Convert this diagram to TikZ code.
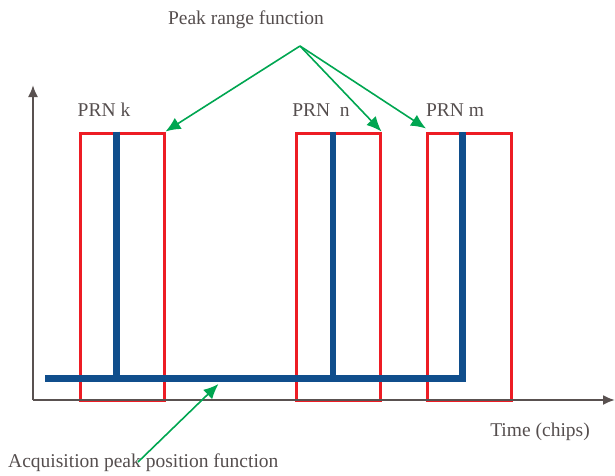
\documentclass[tikz,border=0pt]{standalone}
\usepackage{fontspec}
\newfontfamily\figfont{Liberation Serif}
\usetikzlibrary{arrows.meta, positioning}

\definecolor{rangered}{RGB}{237,28,36}
\definecolor{peakblue}{RGB}{16,78,140}
\definecolor{callgreen}{RGB}{0,166,81}
\definecolor{axisgray}{RGB}{89,81,80}
\definecolor{textgray}{RGB}{85,78,78}

\begin{document}
\begin{tikzpicture}[x=1pt, y=-1pt, >=Latex, font=\figfont\fontsize{19.5}{22}\selectfont, text=textgray]
        \tikzstyle{rangebox} = [draw=rangered, line width=3pt, minimum width=84pt, minimum height=267pt, inner sep=0pt]
        \tikzstyle{peakline} = [draw=peakblue, line width=6.5pt]
        \tikzstyle{axisline} = [draw=axisgray, line width=2pt, -{Latex[length=12pt, width=10pt]}]
        \tikzstyle{callout} = [draw=callgreen, line width=1.6pt, -{Latex[length=15pt, width=13pt]}]
        \tikzstyle{txt} = [inner sep=0pt]

        \useasboundingbox (0,0) rectangle (615,475);

        % peak range boxes
        \node [rangebox] (boxk) at (122,266.5) {};
        \node [rangebox] (boxn) at (338,266.5) {};
        \node [rangebox] (boxm) at (469.5,266.5) {};

        \node [txt] (prnk) at (104,110) {PRN k};
        \node [txt] (prnn) at (321,110) {PRN\ \ n};
        \node [txt] (prnm) at (455,110) {PRN m};

        % axes
        \coordinate (origin) at (33,400);
        \coordinate (ytip) at (33,85);
        \coordinate (xtip) at (615,400);
        \draw [axisline] (origin) -- (ytip);
        \draw [axisline] (origin) -- (xtip);
        \node [txt] (time) at (540,432) {Time (chips)};

        % acquisition peaks
        \coordinate (base) at (45,378.5);
        \coordinate (peakk) at (116.5,378.5);
        \coordinate (peakn) at (333,378.5);
        \coordinate (peakm) at (462.5,378.5);
        \draw [peakline] (base) -- (peakm) -- (peakm |- boxm.north);
        \draw [peakline] (peakk |- boxk.north) -- (peakk);
        \draw [peakline] (peakn |- boxn.north) -- (peakn);

        % callouts
        \node [txt] (rangetext) at (246,20) {Peak range function};
        \coordinate (fork) at (300,46);
        \draw [callout] (fork) -- (boxk.north east);
        \draw [callout] (fork) -- (boxn.north east);
        \draw [callout] (fork) -- ([yshift=3pt]boxm.north west);

        \node [txt, anchor=west] (peaktext) at (8,463) {Acquisition peak position function};
        \coordinate (peakpoint) at (218.5,384);
        \coordinate (tail) at (138,462);
        \draw [callout] (tail) -- (peakpoint);
\end{tikzpicture}
\end{document}
